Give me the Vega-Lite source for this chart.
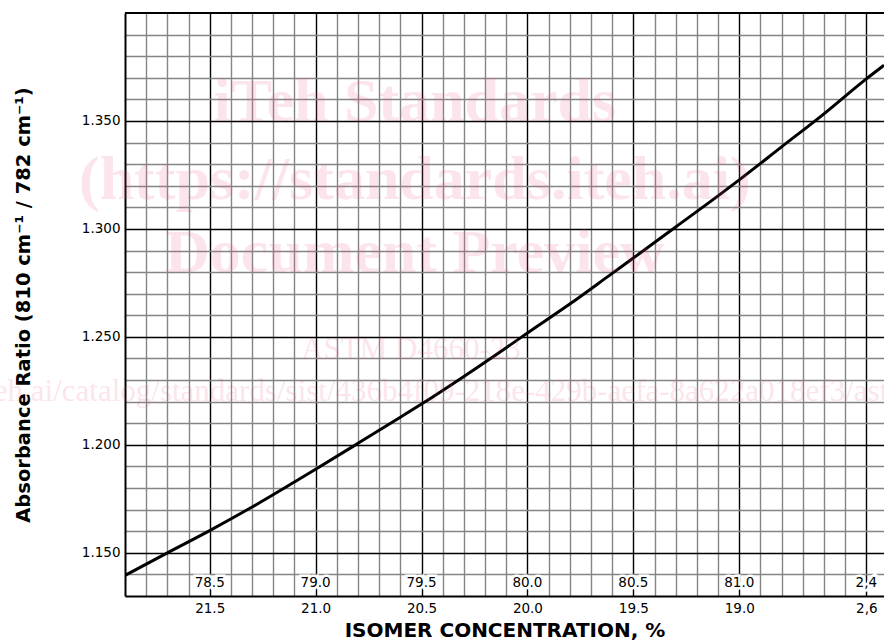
{
  "$schema": "https://vega.github.io/schema/vega-lite/v6.json",
  "autosize": {"type": "none"},
  "padding": {"left": 125, "top": 13, "right": 0, "bottom": 47},
  "width": 759,
  "height": 583,
  "background": "white",
  "config": {
    "view": {"stroke": null},
    "font": "DejaVu Sans",
    "axis": {"labelFont": "DejaVu Sans", "titleFont": "DejaVu Sans", "labelColor": "black", "titleColor": "black"}
  },
  "resolve": {"axis": {"x": "independent", "y": "independent"}},
  "datasets": {
    "curve": [
      {"conc": 21.9, "ratio": 1.1395},
      {"conc": 21.7, "ratio": 1.1500},
      {"conc": 21.5, "ratio": 1.1603},
      {"conc": 21.3, "ratio": 1.1712},
      {"conc": 21.1, "ratio": 1.1828},
      {"conc": 21.0, "ratio": 1.1887},
      {"conc": 20.8, "ratio": 1.2007},
      {"conc": 20.6, "ratio": 1.2128},
      {"conc": 20.5, "ratio": 1.2189},
      {"conc": 20.3, "ratio": 1.2317},
      {"conc": 20.1, "ratio": 1.2450},
      {"conc": 20.0, "ratio": 1.2518},
      {"conc": 19.8, "ratio": 1.2652},
      {"conc": 19.6, "ratio": 1.2794},
      {"conc": 19.5, "ratio": 1.2865},
      {"conc": 19.3, "ratio": 1.3009},
      {"conc": 19.1, "ratio": 1.3153},
      {"conc": 19.0, "ratio": 1.3227},
      {"conc": 18.8, "ratio": 1.3380},
      {"conc": 18.6, "ratio": 1.3533},
      {"conc": 18.4, "ratio": 1.3695},
      {"conc": 18.3165, "ratio": 1.3758}
    ],
    "toplabels": [
      {"conc": 21.5, "label": "78.5"},
      {"conc": 21.0, "label": "79.0"},
      {"conc": 20.5, "label": "79.5"},
      {"conc": 20.0, "label": "80.0"},
      {"conc": 19.5, "label": "80.5"},
      {"conc": 19.0, "label": "81.0"},
      {"conc": 18.4, "label": "2,4"}
    ],
    "one": [{}]
  },
  "layer": [
    {
      "data": {"name": "curve"},
      "mark": {"type": "line", "color": "black", "strokeWidth": 3, "interpolate": "monotone", "clip": true},
      "encoding": {
        "x": {
          "field": "conc", "type": "quantitative",
          "scale": {"domain": [18.3165, 21.9], "reverse": true, "zero": false, "nice": false},
          "axis": {
            "orient": "bottom",
            "values": [18.4, 18.5, 18.6, 18.7, 18.8, 18.9, 19.0, 19.1, 19.2, 19.3, 19.4, 19.5, 19.6, 19.7, 19.8, 19.9, 20.0, 20.1, 20.2, 20.3, 20.4, 20.5, 20.6, 20.7, 20.8, 20.9, 21.0, 21.1, 21.2, 21.3, 21.4, 21.5, 21.6, 21.7, 21.8],
            "grid": true,
            "gridColor": {"condition": {"test": "indexof([21.5, 21, 20.5, 20, 19.5, 19, 18.4], datum.value) >= 0", "value": "#000000"}, "value": "#858585"},
            "gridWidth": 1.4,
            "ticks": false,
            "domain": true, "domainColor": "black", "domainWidth": 2,
            "labelExpr": "datum.value == 18.4 ? '2,6' : (indexof([21.5, 21, 20.5, 20, 19.5, 19], datum.value) >= 0 ? format(datum.value, '.1f') : '')",
            "labelFontSize": 13.5, "labelPadding": 5, "labelOverlap": false, "labelFlush": false, "labelBound": false,
            "title": "ISOMER CONCENTRATION, %", "titleFontSize": 20, "titleFontWeight": "bold", "titlePadding": 6
          }
        },
        "y": {
          "field": "ratio", "type": "quantitative",
          "scale": {"domain": [1.13, 1.40], "zero": false, "nice": false},
          "axis": {
            "orient": "left",
            "values": [1.14, 1.15, 1.16, 1.17, 1.18, 1.19, 1.2, 1.21, 1.22, 1.23, 1.24, 1.25, 1.26, 1.27, 1.28, 1.29, 1.3, 1.31, 1.32, 1.33, 1.34, 1.35, 1.36, 1.37, 1.38, 1.39],
            "grid": true,
            "gridColor": {"condition": {"test": "indexof([1.15, 1.2, 1.25, 1.3, 1.35], datum.value) >= 0", "value": "#000000"}, "value": "#858585"},
            "gridWidth": 1.4,
            "ticks": false,
            "domain": true, "domainColor": "black", "domainWidth": 2,
            "labelExpr": "indexof([1.15, 1.2, 1.25, 1.3, 1.35], datum.value) >= 0 ? format(datum.value, '.3f') : ''",
            "labelFontSize": 13.5, "labelPadding": 5, "labelOverlap": false, "labelFlush": false, "labelBound": false,
            "title": "Absorbance Ratio (810 cm⁻¹ / 782 cm⁻¹)", "titleFontSize": 19.5, "titleFontWeight": "bold", "titlePadding": 48
          }
        }
      }
    },
    {
      "data": {"name": "one"},
      "mark": {"type": "text", "text": "iTeh Standards", "font": "Liberation Serif", "fontWeight": "bold", "fontSize": 62, "fill": "#e8557f", "opacity": 0.15, "align": "center", "baseline": "middle"},
      "encoding": {"x": {"datum": 20.5315, "axis": null}, "y": {"datum": 1.3590, "axis": null}}
    },
    {
      "data": {"name": "one"},
      "mark": {"type": "text", "text": "(https://standards.iteh.ai)", "font": "Liberation Serif", "fontWeight": "bold", "fontSize": 62, "fill": "#e8557f", "opacity": 0.15, "align": "center", "baseline": "middle"},
      "encoding": {"x": {"datum": 20.5315, "axis": null}, "y": {"datum": 1.3227, "axis": null}}
    },
    {
      "data": {"name": "one"},
      "mark": {"type": "text", "text": "Document Preview", "font": "Liberation Serif", "fontWeight": "bold", "fontSize": 62, "fill": "#e8557f", "opacity": 0.15, "align": "center", "baseline": "middle"},
      "encoding": {"x": {"datum": 20.5315, "axis": null}, "y": {"datum": 1.2888, "axis": null}}
    },
    {
      "data": {"name": "one"},
      "mark": {"type": "text", "text": "ASTM D4660-23", "font": "Liberation Serif", "fontSize": 31, "fill": "#e8557f", "opacity": 0.15, "align": "center", "baseline": "middle"},
      "encoding": {"x": {"datum": 20.55, "axis": null}, "y": {"datum": 1.2440, "axis": null}}
    },
    {
      "data": {"name": "one"},
      "mark": {"type": "text", "text": "https://standards.iteh.ai/catalog/standards/sist/436b4f09-218e-429b-aefa-8a622a018ef3/astm-d4660-23", "font": "Liberation Serif", "fontSize": 31, "fill": "#e8557f", "opacity": 0.15, "align": "center", "baseline": "middle"},
      "encoding": {"x": {"datum": 20.585, "axis": null}, "y": {"datum": 1.2245, "axis": null}}
    },
    {
      "data": {"name": "toplabels"},
      "mark": {"type": "text", "font": "DejaVu Sans", "fontSize": 13.5, "fill": "white", "stroke": "white", "strokeWidth": 5, "align": "center", "baseline": "middle"},
      "encoding": {
        "x": {"field": "conc", "type": "quantitative", "axis": null},
        "y": {"datum": 1.136, "axis": null},
        "text": {"field": "label"}
      }
    },
    {
      "data": {"name": "toplabels"},
      "mark": {"type": "text", "font": "DejaVu Sans", "fontSize": 13.5, "fill": "black", "align": "center", "baseline": "middle"},
      "encoding": {
        "x": {"field": "conc", "type": "quantitative", "axis": null},
        "y": {"datum": 1.136, "axis": null},
        "text": {"field": "label"}
      }
    },
    {
      "data": {"name": "one"},
      "mark": {"type": "rule", "color": "black", "strokeWidth": 2},
      "encoding": {"y": {"datum": 1.40, "axis": null}}
    }
  ]
}
